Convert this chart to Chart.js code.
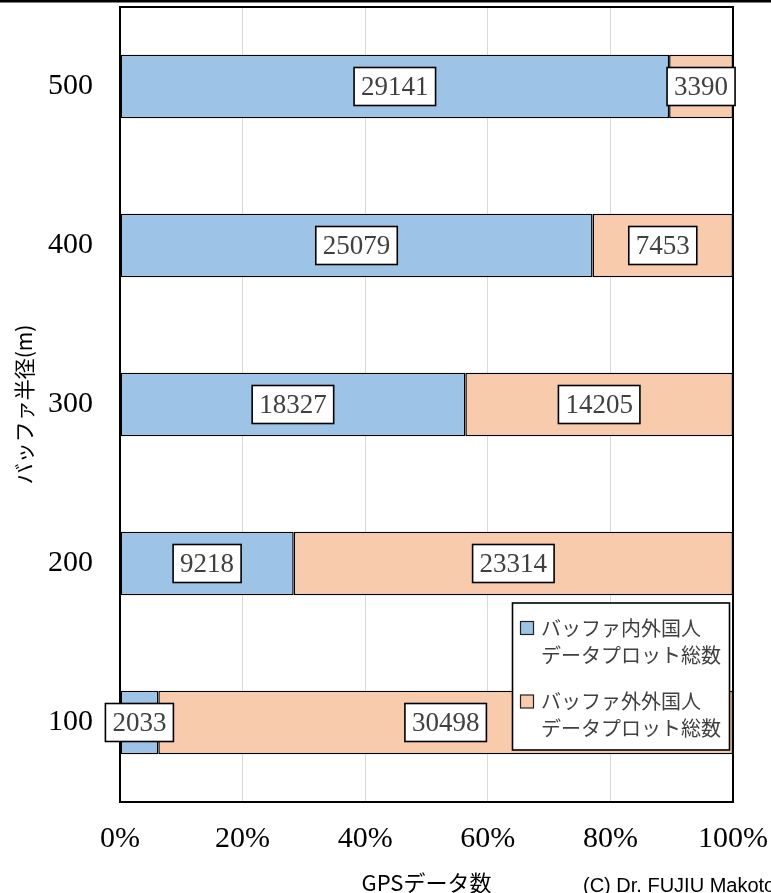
<!DOCTYPE html>
<html lang="ja">
<head>
<meta charset="utf-8">
<title>バッファ半径別 GPSデータ数</title>
<script src="https://cdn.jsdelivr.net/npm/chart.js@4/dist/chart.umd.min.js"></script>
<style>
  html, body { margin: 0; padding: 0; background: #fff; }
  #wrap { position: relative; width: 771px; height: 893px; overflow: hidden; }
  canvas { display: block; }
</style>
</head>
<body>
<div id="wrap"><canvas id="chart" width="771" height="893"></canvas></div>
<script>
// Buffer radius (m), top to bottom
const radii = ['500', '400', '300', '200', '100'];
// Foreign-visitor GPS points inside / outside the buffer
const insideCounts  = [29141, 25079, 18327, 9218, 2033];
const outsideCounts = [3390, 7453, 14205, 23314, 30498];
// Legend text, one array of lines per series
const insideLegend  = ['バッファ内外国人', 'データプロット総数'];
const outsideLegend = ['バッファ外外国人', 'データプロット総数'];
const xTitle = 'GPSデータ数';
const yTitle = 'バッファ半径(m)';
const credit = '(C) Dr. FUJIU Makoto';

const BLUE = '#9DC3E6';
const ORANGE = '#F8CBAD';
const SERIF = '"Liberation Serif", "Times New Roman", serif';
const SANS = '"Noto Sans CJK JP", "Noto Sans", sans-serif';

// Share of each row (100% stacked)
const totals = insideCounts.map((v, i) => v + outsideCounts[i]);
const insidePct = insideCounts.map((v, i) => v / totals[i] * 100);
const outsidePct = outsideCounts.map((v, i) => v / totals[i] * 100);

// keep the plot area fixed: drop the extra edge padding scales reserve for labels
function noEdgePadding(scale) {
  scale.paddingTop = 0;
  scale.paddingBottom = 0;
  scale.paddingLeft = 0;
  scale.paddingRight = 0;
}

const overlay = {
  id: 'overlay',
  beforeDraw(chart) {
    const ctx = chart.ctx;
    ctx.save();
    ctx.fillStyle = '#000';
    ctx.fillRect(0, 0, chart.width, 2.5);
    ctx.restore();
  },
  afterDatasetsDraw(chart) {
    const ctx = chart.ctx;
    const a = chart.chartArea;
    ctx.save();
    // plot frame
    ctx.strokeStyle = '#000';
    ctx.lineWidth = 2;
    ctx.strokeRect(a.left, a.top, a.right - a.left, a.bottom - a.top);

    // value boxes centred on each segment
    ctx.font = '27px ' + SERIF;
    ctx.textAlign = 'center';
    ctx.textBaseline = 'middle';
    const raw = [insideCounts, outsideCounts];
    chart.data.datasets.forEach((ds, di) => {
      const meta = chart.getDatasetMeta(di);
      meta.data.forEach((el, i) => {
        const txt = String(raw[di][i]);
        const cx = (el.x + el.base) / 2;
        const cy = el.y;
        const w = ctx.measureText(txt).width + 14;
        const h = 38;
        ctx.fillStyle = '#fff';
        ctx.fillRect(cx - w / 2, cy - h / 2, w, h);
        ctx.lineWidth = 1.6;
        ctx.strokeStyle = '#000';
        ctx.strokeRect(cx - w / 2, cy - h / 2, w, h);
        ctx.fillStyle = '#404040';
        ctx.fillText(txt, cx, cy + 1);
      });
    });

    // legend box inside the plot, lower right
    const lx = 512.5, ly = 603, lw = 217, lh = 147;
    ctx.fillStyle = '#fff';
    ctx.fillRect(lx, ly, lw, lh);
    ctx.lineWidth = 1.6;
    ctx.strokeStyle = '#000';
    ctx.strokeRect(lx, ly, lw, lh);
    const items = [
      { lines: insideLegend, color: BLUE, y: 628 },
      { lines: outsideLegend, color: ORANGE, y: 701.5 }
    ];
    ctx.font = '20px ' + SANS;
    ctx.textAlign = 'left';
    ctx.textBaseline = 'middle';
    items.forEach(it => {
      ctx.fillStyle = it.color;
      ctx.fillRect(520.5, it.y - 6.5, 13, 13);
      ctx.lineWidth = 1.2;
      ctx.strokeStyle = '#222';
      ctx.strokeRect(520.5, it.y - 6.5, 13, 13);
      ctx.fillStyle = '#404040';
      it.lines.forEach((ln, k) => ctx.fillText(ln, 541, it.y + k * 27));
    });

    // credit line, running off the lower right edge
    ctx.font = '20px "Liberation Sans", Arial, sans-serif';
    ctx.fillStyle = '#000';
    ctx.textAlign = 'left';
    ctx.textBaseline = 'alphabetic';
    ctx.fillText(credit, 583, 892);
    ctx.restore();
  }
};

function build() {
  new Chart(document.getElementById('chart'), {
    type: 'bar',
    data: {
      labels: radii,
      datasets: [
        {
          label: insideLegend.join(''),
          data: insidePct,
          backgroundColor: BLUE,
          borderColor: '#000',
          borderWidth: 1.5,
          borderSkipped: false
        },
        {
          label: outsideLegend.join(''),
          data: outsidePct,
          backgroundColor: ORANGE,
          borderColor: '#000',
          borderWidth: 1.5,
          borderSkipped: false
        }
      ]
    },
    options: {
      indexAxis: 'y',
      responsive: false,
      animation: false,
      devicePixelRatio: 1,
      categoryPercentage: 1,
      barPercentage: 0.4,
      layout: { padding: { top: 7, right: 38, left: 0, bottom: 0 } },
      plugins: {
        legend: { display: false },
        tooltip: { enabled: false },
        title: { display: false }
      },
      scales: {
        x: {
          stacked: true,
          min: 0,
          max: 100,
          ticks: {
            stepSize: 20,
            padding: 22,
            color: '#000',
            font: { family: SERIF, size: 30, lineHeight: 1 },
            callback: v => v + '%',
            maxRotation: 0
          },
          grid: { color: '#D9D9D9', lineWidth: 1, drawTicks: false },
          border: { display: true, color: '#000', width: 2 },
          title: {
            display: true,
            text: xTitle,
            color: '#000',
            font: { family: SANS, size: 22, lineHeight: 1 },
            padding: { top: 0, bottom: -1 }
          },
          afterFit(scale) { scale.height = 91; noEdgePadding(scale); }
        },
        y: {
          stacked: true,
          ticks: {
            padding: 27,
            color: '#000',
            font: { family: SERIF, size: 30, lineHeight: 1 }
          },
          grid: { display: false, drawTicks: false },
          border: { display: true, color: '#000', width: 2 },
          title: {
            display: true,
            text: yTitle,
            color: '#000',
            font: { family: SANS, size: 21, lineHeight: 1 },
            padding: { top: 13.5, bottom: 0 }
          },
          afterFit(scale) { scale.width = 120; noEdgePadding(scale); }
        }
      }
    },
    plugins: [overlay]
  });
}

const fontLoads = [
  '30px "Liberation Serif"',
  '20px "Noto Sans CJK JP"',
  '20px "Liberation Sans"'
].map(f => document.fonts.load(f, 'バッファ0%').catch(() => null));
Promise.all(fontLoads).then(build, build);
</script>
</body>
</html>
